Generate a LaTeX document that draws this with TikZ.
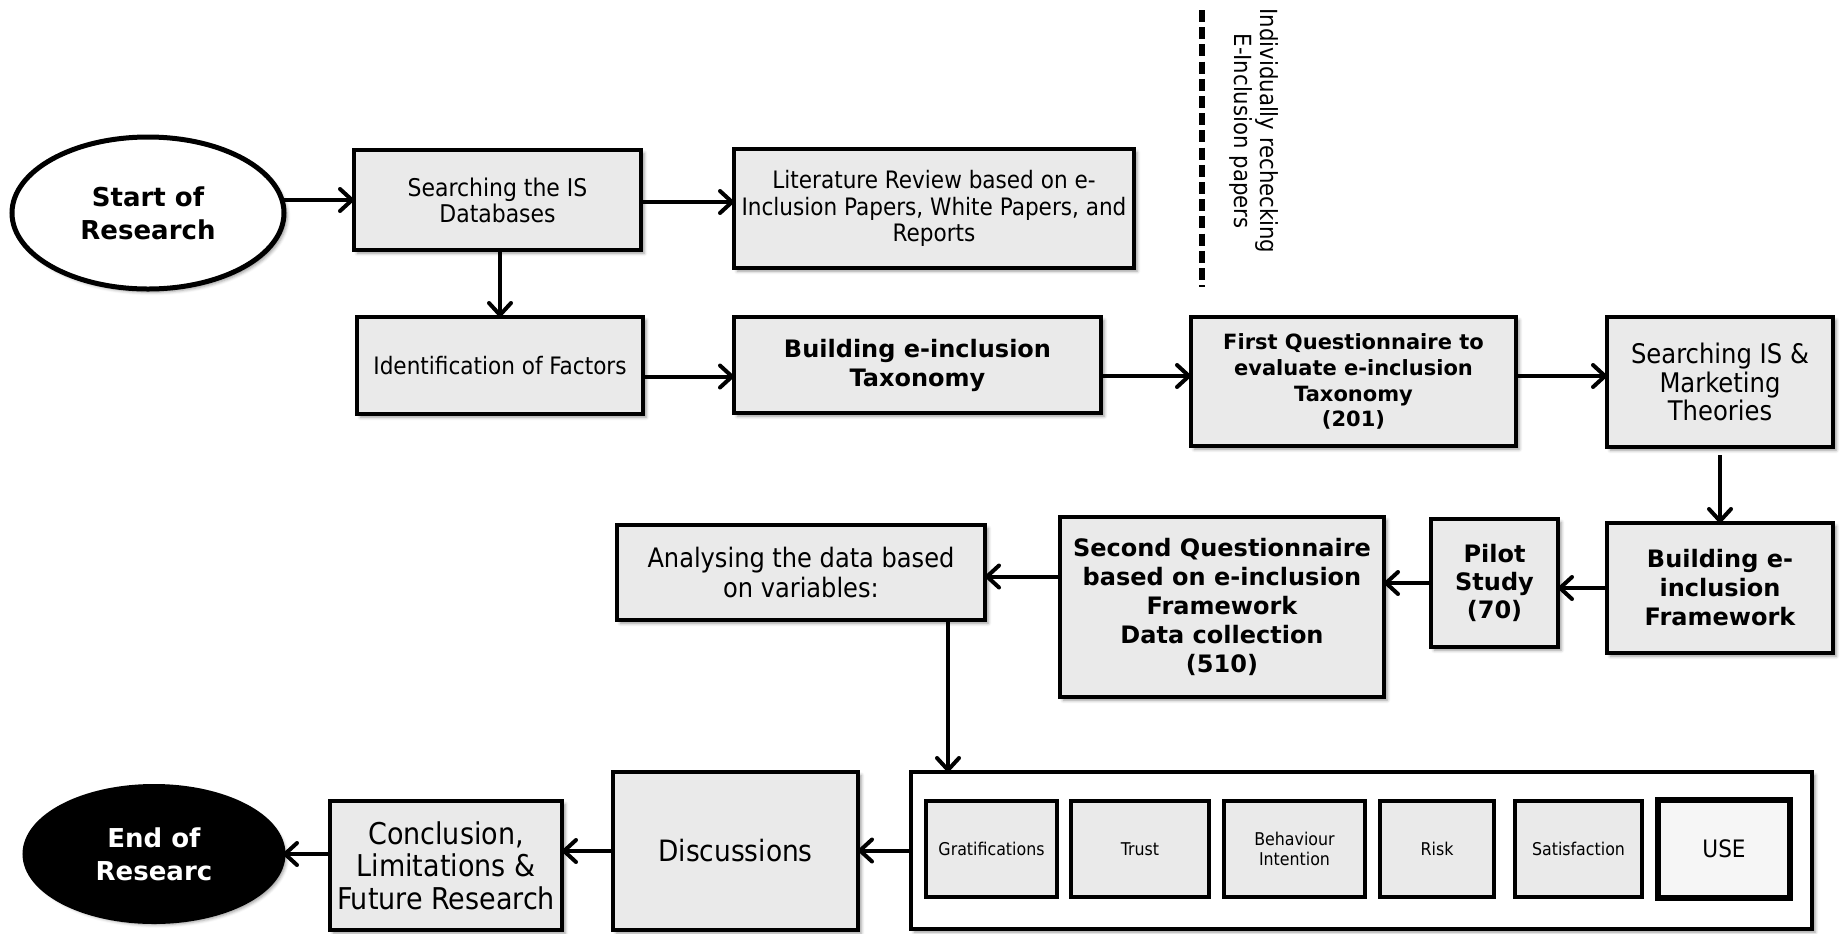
\documentclass[tikz,border=0pt]{standalone}
\usepackage{fontspec}
\setmainfont{DejaVu Sans Condensed}[BoldFont={DejaVu Sans Bold}]
\usetikzlibrary{arrows.meta,shapes.geometric,shadows.blur}

\definecolor{boxgray}{HTML}{EAEAEA}
\definecolor{uselight}{HTML}{F6F6F6}

\tikzset{
  sz/.style 2 args={minimum width=#1*0.5pt, minimum height=#2*0.5pt},
  txt/.style 2 args={font=\fontsize{#1}{#2}\selectfont},
  btxt/.style 2 args={font=\fontsize{#1}{#2}\selectfont\bfseries},
  base/.style={draw=black, line width=2pt, inner sep=0pt, outer sep=0pt, align=center},
  softshadow/.style={blur shadow={shadow xshift=1.6pt, shadow yshift=-1.6pt,
      shadow blur radius=1.6pt, shadow opacity=40}},
  stepbox/.style={base, rectangle, fill=boxgray, softshadow},
  varbox/.style={base, rectangle, fill=boxgray, txt={8.8}{9.6}},
  oval/.style={base, ellipse, line width=2.5pt, softshadow},
  arr/.style={line width=2pt, -{Straight Barb[length=6pt,width=11pt,round]}},
  sep/.style={line width=3pt, dash pattern=on 6pt off 2.6pt}
}

\begin{document}
\begin{tikzpicture}[x=0.5pt, y=-0.5pt]
  \useasboundingbox (0,0) rectangle (1842,933);

  % first row
  \node[oval, fill=white, sz={272}{152}, btxt={13}{16.5}] (start) at (148,213) {Start of\\Research};
  \node[stepbox, sz={287}{100}, txt={12.2}{13}] (search) at (497.5,200) {Searching the IS\\Databases};
  \node[stepbox, sz={400}{119}, txt={12}{13.1}] (lit) at (934,208.5)
    {Literature Review based on e-\\Inclusion Papers, White Papers, and\\Reports};

  % rechecking note
  \coordinate (dtop) at (1202,10);
  \coordinate (dbot) at (1202,287);
  \draw[sep] (dtop) -- (dbot);
  \node[align=center, rotate=-90, txt={11.8}{13}, inner sep=0pt] (note) at (1253.5,131)
    {Individually rechecking\\E-Inclusion papers};

  % second row
  \node[stepbox, sz={286}{97}, txt={12}{13}] (ident) at (500,365.5) {Identification of Factors};
  \node[stepbox, sz={367}{96}, btxt={12}{14.5}] (tax) at (917.5,365) {Building e-inclusion\\Taxonomy};
  \node[stepbox, sz={325}{129}, btxt={10.5}{12.9}] (firstq) at (1353.5,381.5)
    {First Questionnaire to\\evaluate e-inclusion\\Taxonomy\\(201)};
  \node[stepbox, sz={226}{130}, txt={13.5}{14.4}] (theory) at (1720,382)
    {Searching IS \&\\Marketing\\Theories};

  % third row
  \node[stepbox, sz={226}{130}, btxt={12}{14.5}] (frame) at (1720,588)
    {Building e-\\inclusion\\Framework};
  \node[stepbox, sz={127}{128}, btxt={12}{14}] (pilot) at (1494.5,583) {Pilot\\Study\\(70)};
  \node[stepbox, sz={324}{180}, btxt={12}{14.5}] (secondq) at (1222,607)
    {Second Questionnaire\\based on e-inclusion\\Framework\\Data collection\\(510)};
  \node[stepbox, sz={368}{95}, txt={13.4}{14.7}] (analys) at (801,572.5)
    {Analysing the data based\\on variables:};

  % fourth row
  \node[base, rectangle, fill=white, sz={901}{157}, softshadow] (vars) at (1361.5,850.5) {};
  \node[varbox, sz={131}{96}] (grat) at (991.5,849) {Gratifications};
  \node[varbox, sz={138}{96}] (trust) at (1140,849) {Trust};
  \node[varbox, sz={141}{96}] (behav) at (1294.5,849) {Behaviour\\Intention};
  \node[varbox, sz={114}{96}] (risk) at (1437,849) {Risk};
  \node[varbox, sz={127}{96}] (satis) at (1578.5,849) {Satisfaction};
  \node[base, rectangle, fill=uselight, line width=3.2pt, sz={132}{98}, txt={12}{13}] (use) at (1724,849) {USE};

  \node[stepbox, sz={245}{158}, txt={14.7}{16}] (disc) at (735.5,851) {Discussions};
  \node[stepbox, sz={232}{129}, txt={15}{16.2}] (concl) at (446,865.5)
    {Conclusion,\\Limitations \&\\Future Research};
  \node[oval, fill=black, sz={258}{135}, btxt={13}{16.5}, text=white] (end) at (154,854) {End of\\Researc};

  % connectors
  \draw[arr] (search.west -| start.east) -- (search.west);
  \draw[arr] ([yshift=-1pt]search.east) -- ([yshift=-1pt]search.east -| lit.west);
  \draw[arr] (ident.north |- search.south) -- (ident.north);
  \draw[arr] ([yshift=-5.5pt]ident.east) -- ([yshift=-5.5pt]ident.east -| tax.west);
  \draw[arr] ([yshift=-5.5pt]tax.east) -- ([yshift=-5.5pt]tax.east -| firstq.west);
  \draw[arr] ([yshift=2.75pt]firstq.east) -- ([yshift=2.75pt]firstq.east -| theory.west);
  \draw[arr] ([yshift=-4pt]theory.south) -- (frame.north);
  \draw[arr] (frame.west) -- (frame.west -| pilot.east);
  \draw[arr] (pilot.west) -- (pilot.west -| secondq.east);
  \draw[arr] ([yshift=-2pt]secondq.west |- analys.east) -- ([yshift=-2pt]analys.east);
  \draw[arr] ([xshift=73.5pt]analys.south) -- ([xshift=73.5pt]analys.south |- vars.north);
  \draw[arr] (vars.west) -- (vars.west -| disc.east);
  \draw[arr] (disc.west) -- (disc.west -| concl.east);
  \draw[arr] (concl.west |- end.east) -- (end.east);
\end{tikzpicture}
\end{document}
